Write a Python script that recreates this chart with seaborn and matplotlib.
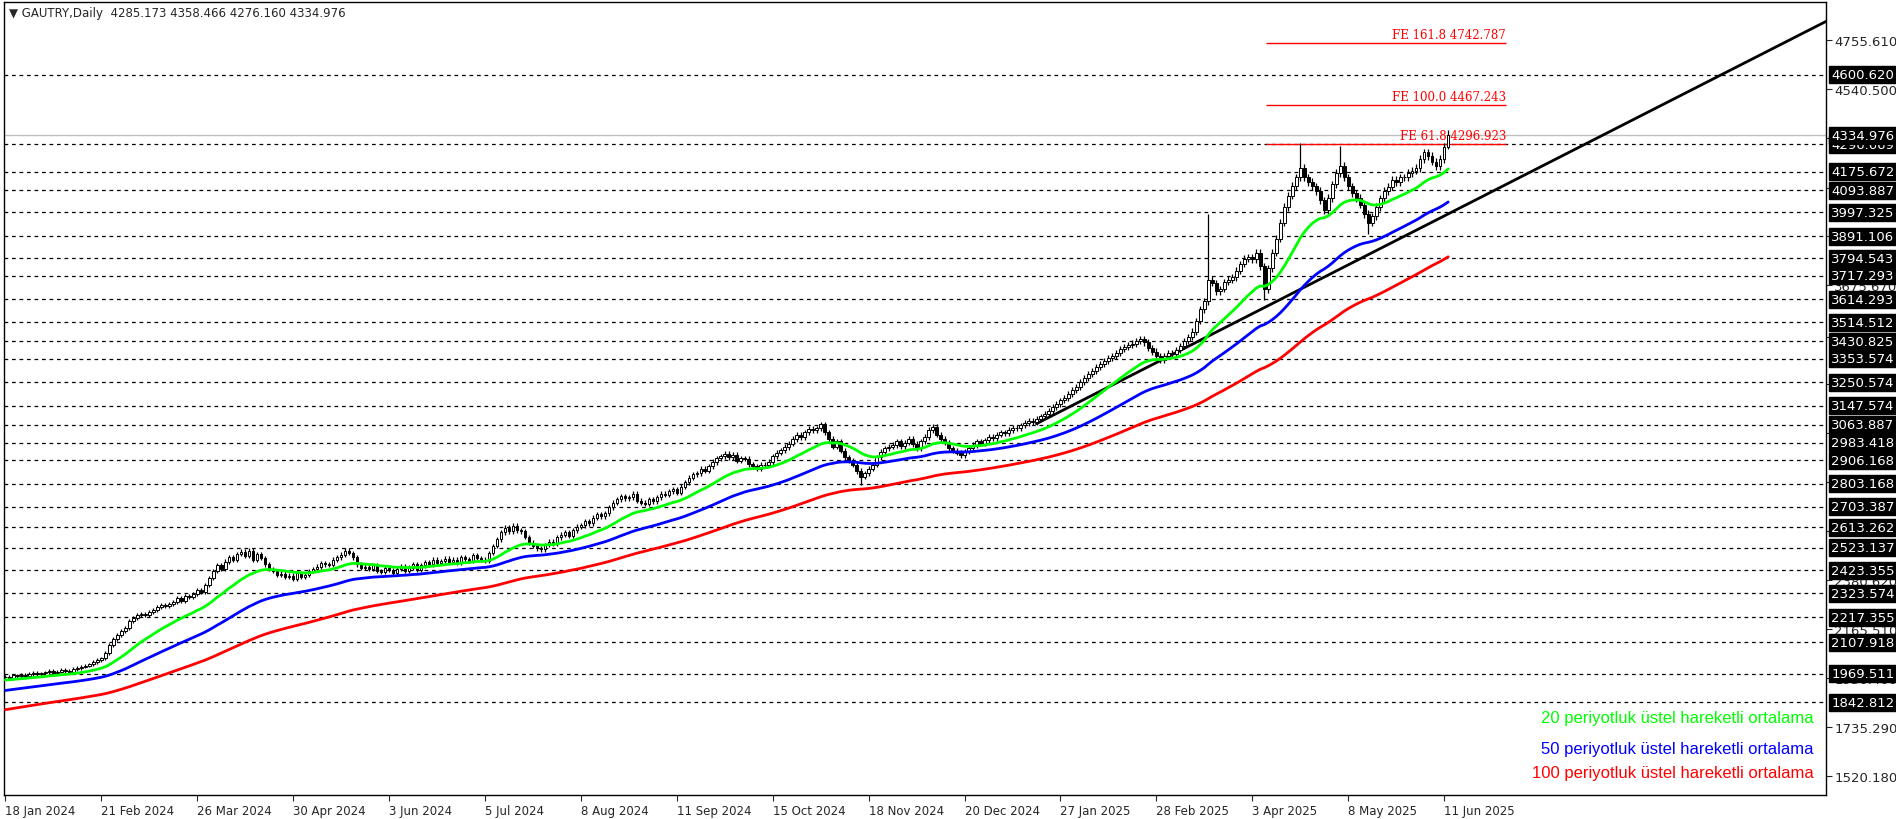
import numpy as np
import pandas as pd
import matplotlib
matplotlib.use("Agg")
import matplotlib.pyplot as plt
import matplotlib.transforms as mtrans
import seaborn as sns

closes = [
1956,1950,1962,1958,1965,1960,1968,1972,1966,1970,
1975,1980,1972,1978,1985,1982,1976,1990,1995,2000,
2005,2010,2022,2030,2036,2060,2095,2120,2140,2155,
2170,2200,2215,2225,2233,2228,2240,2250,2262,2270,
2265,2276,2285,2300,2290,2310,2305,2320,2335,2329,
2360,2390,2420,2445,2430,2462,2480,2470,2495,2505,
2488,2510,2470,2495,2478,2450,2430,2420,2405,2409,
2395,2400,2385,2410,2393,2405,2420,2430,2440,2455,
2450,2446,2470,2480,2492,2510,2499,2480,2450,2435,
2440,2430,2445,2420,2415,2435,2425,2410,2430,2440,
2420,2435,2450,2425,2445,2460,2450,2470,2455,2465,
2475,2462,2470,2458,2480,2472,2465,2490,2478,2470,
2465,2500,2530,2560,2590,2610,2595,2620,2600,2595,
2570,2545,2530,2520,2515,2535,2550,2540,2568,2580,
2590,2575,2600,2615,2621,2640,2630,2655,2670,2660,
2675,2700,2720,2735,2750,2740,2744,2760,2730,2720,
2715,2735,2728,2745,2760,2755,2770,2780,2765,2790,
2810,2830,2845,2850,2870,2861,2880,2900,2915,2925,
2935,2920,2930,2905,2915,2914,2890,2880,2870,2888,
2888,2900,2925,2940,2951,2965,2980,3000,3020,3010,
3030,3045,3040,3047,3065,3030,3000,2967,2990,2950,
2920,2905,2888,2860,2835,2850,2870,2888,2920,2945,
2960,2967,2975,2990,2970,2985,3000,2978,2960,2990,
3010,3040,3055,3020,3000,2985,2960,2950,2941,2930,
2945,2960,2975,2990,2980,2995,3010,3005,3020,3030,
3025,3040,3050,3047,3060,3070,3080,3075,3090,3100,
3110,3125,3140,3155,3170,3180,3200,3215,3230,3250,
3270,3286,3300,3315,3330,3345,3355,3366,3380,3395,
3405,3415,3420,3430,3440,3425,3400,3385,3366,3350,
3365,3380,3375,3393,3410,3430,3450,3473,3520,3570,
3606,3700,3686,3650,3660,3690,3700,3712,3740,3770,
3792,3800,3790,3819,3760,3659,3750,3820,3880,3952,
4020,4070,4112,4150,4191,4150,4130,4111,4090,4050,
4005,4060,4120,4170,4200,4150,4111,4080,4060,4030,
3990,3952,3980,4020,4058,4090,4110,4138,4130,4150,
4150,4170,4180,4191,4230,4260,4244,4220,4200,4230,
4285.173,4334.976]
spike_highs = {301: 3990, 324: 4300, 334: 4290, 361: 4358.466}
spike_lows = {315: 3610, 341: 3900, 214: 2800, 361: 4276.160}

ema_periods = [20, 50, 100]
ema_seeds = [1940, 1893, 1808]
ema_colors = ["#00ff00", "#0000ff", "#ff0000"]
ema_labels = ["20 periyotluk üstel hareketli ortalama",
              "50 periyotluk üstel hareketli ortalama",
              "100 periyotluk üstel hareketli ortalama"]
legend_prices = [1775, 1642, 1536]

date_labels = ["18 Jan 2024","21 Feb 2024","26 Mar 2024","30 Apr 2024","3 Jun 2024",
               "5 Jul 2024","8 Aug 2024","11 Sep 2024","15 Oct 2024","18 Nov 2024",
               "20 Dec 2024","27 Jan 2025","28 Feb 2025","3 Apr 2025","8 May 2025","11 Jun 2025"]
date_pos = [0,24,48,72,96,120,144,168,192,216,240,264,288,312,336,360]

levels = [4600.620,4296.669,4175.672,4093.887,3997.325,3891.106,3794.543,3717.293,
          3614.293,3514.512,3430.825,3353.574,3250.574,3147.574,3063.887,2983.418,
          2906.168,2803.168,2703.387,2613.262,2523.137,2423.355,2323.574,2217.355,
          2107.918,1969.511,1842.812]
grid_ticks = [1520.180,1735.290,1950.400,2165.510,2380.620,2595.730,2810.840,3025.950,
              3241.060,3450.560,3675.670,3890.780,4105.890,4325.390,4540.500,4755.610]
current_price = 4334.976

fibo_names = ["FE 161.8", "FE 100.0", "FE 61.8"]
fibo_values = [4742.787, 4467.243, 4296.923]
fibo_span = [315.5, 375.5]

trend_x = [258, 456]
trend_y = [3068, 4840]

title = "▼ GAUTRY,Daily  4285.173 4358.466 4276.160 4334.976"

# ---- build frame
n = len(closes)
idx = np.arange(n)
c = np.array(closes, float)
o = np.r_[c[0], c[:-1]]
o[-1] = 4285.173
wick = 0.004
h = np.maximum(o, c) * (1 + wick)
l = np.minimum(o, c) * (1 - wick)
for k, v in spike_highs.items(): h[k] = v
for k, v in spike_lows.items(): l[k] = v

ema_df = []
for p, s in zip(ema_periods, ema_seeds):
    a = 2 / (p + 1)
    vals = []
    e = s
    for v in c:
        e = e + a * (v - e)
        vals.append(e)
    ema_df.append(pd.DataFrame({"bar": idx, "ema": vals, "p": p}))
ema_df = pd.concat(ema_df)

sns.set_style("white")
plt.rcParams['font.family'] = ['DejaVu Sans']
fig = plt.figure(figsize=(18.96, 8.2), dpi=100)
ax = fig.add_axes([0.002, 0.029, 0.961, 0.967])
ax.set_xlim(-0.4, 455.5)
ax.set_ylim(1435, 4920)

for lv in levels:
    ax.axhline(lv, color="black", lw=0.9, ls=(0, (3, 3)), zorder=1)
ax.axhline(current_price, color="#c0c0c0", lw=1, zorder=1)

for i, f in enumerate(fibo_values):
    ax.hlines(f, fibo_span[0], fibo_span[1], color="red", lw=1, zorder=2)
    ax.text(fibo_span[1], f + 8, f"{fibo_names[i]} {f:.3f}", color="red",
            ha="right", va="bottom", fontsize=8.5, family="DejaVu Serif")

ax.plot(trend_x, trend_y, color="black", lw=2, zorder=3)

up = c >= o
ax.vlines(idx, l, h, color="black", lw=0.9, zorder=4)
bw = 0.65
ax.bar(idx[up], (c - o)[up], bottom=o[up], width=bw, color="white", edgecolor="black", lw=0.7, zorder=5)
ax.bar(idx[~up], (o - c)[~up], bottom=c[~up], width=bw, color="black", edgecolor="black", lw=0.7, zorder=5)

sns.lineplot(data=ema_df, x="bar", y="ema", hue="p", palette=ema_colors, lw=2,
             legend=False, ax=ax, zorder=6)

for lab, col, yp in zip(ema_labels, ema_colors, legend_prices):
    ax.text(452.5, yp, lab, color=col, ha="right", va="center", fontsize=12, family="Liberation Sans")

ax.text(0.003, 0.995, title, transform=ax.transAxes, ha="left", va="top", fontsize=8.5)

ax.yaxis.tick_right()
ax.set_yticks(grid_ticks)
ax.set_yticklabels([f"{t:.3f}" for t in grid_ticks], fontsize=9.5)
ax.tick_params(axis="y", length=4, pad=2, direction="out", right=True)
ax.set_xticks(date_pos)
ax.set_xticklabels(date_labels, fontsize=8.5, ha="left")
ax.tick_params(axis="x", length=4, pad=2, bottom=True)
ax.set_xlabel(""); ax.set_ylabel("")
for s in ax.spines.values():
    s.set_color("black"); s.set_linewidth(1)

tr = mtrans.blended_transform_factory(ax.transAxes, ax.transData)
for lv in levels + [current_price]:
    ax.text(1.003, lv, f"{lv:.3f}", transform=tr, ha="left", va="center", fontsize=9.5,
            color="white", zorder=10,
            bbox=dict(boxstyle="square,pad=0.15", fc="black", ec="black"))

fig.savefig("out.png", dpi=100)
